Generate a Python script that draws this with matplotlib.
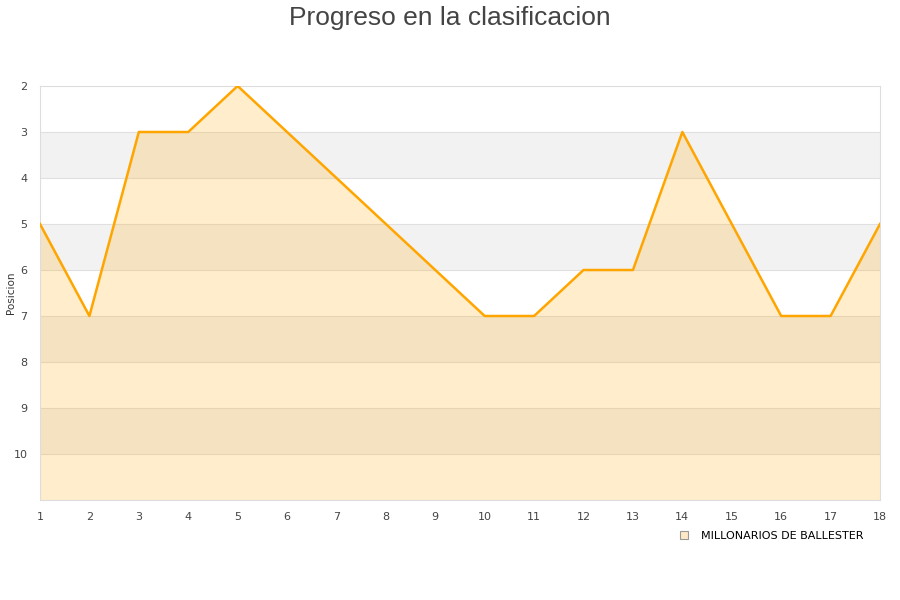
import matplotlib.pyplot as plt

jornadas = list(range(1, 19))
posiciones = [5, 7, 3, 3, 2, 3, 4, 5, 6, 7, 7, 6, 6, 3, 5, 7, 7, 5]
yticks = [2, 3, 4, 5, 6, 7, 8, 9, 10]
equipo = "MILLONARIOS DE BALLESTER"

fig = plt.figure(figsize=(9, 6), dpi=100)
ax = fig.add_axes([40 / 900, 100 / 600, 840 / 900, 414 / 600])

# alternating bands
for lo in [3, 5, 7, 9]:
    ax.axhspan(lo, lo + 1, color="#f2f2f2", zorder=0, lw=0)
for y in yticks[1:]:
    ax.axhline(y, color="#e0e0e0", lw=0.8, zorder=1)

ax.fill_between(jornadas, posiciones, 11, color="#ffa500", alpha=0.2, lw=0, zorder=2)
ax.plot(jornadas, posiciones, color="#ffa500", lw=1.8, zorder=3, label=equipo)

ax.set_xlim(1, 18)
ax.set_ylim(11, 2)
ax.set_xticks(jornadas)
ax.set_yticks(yticks)
ax.tick_params(length=0, labelsize=8, labelcolor="#444444", pad=9)
for s in ax.spines.values():
    s.set_color("#dddddd")
ax.set_ylabel("Posicion", fontsize=7.5, color="#333333")
ax.yaxis.set_label_coords(-24 / 840, 0.5)

fig.suptitle("Progreso en la clasificacion", fontsize=19, color="#444444", y=0.99,
             family=["Liberation Sans", "DejaVu Sans"])

h = plt.Line2D([], [], marker="s", ls="", markersize=6, markerfacecolor="#fde9c6",
               markeredgecolor="#999999", markeredgewidth=0.8)
fig.legend([h], [equipo], loc="center right", bbox_to_anchor=(0.97, 0.107), frameon=False,
           fontsize=8, handletextpad=0.5)

fig.savefig("out.png")
